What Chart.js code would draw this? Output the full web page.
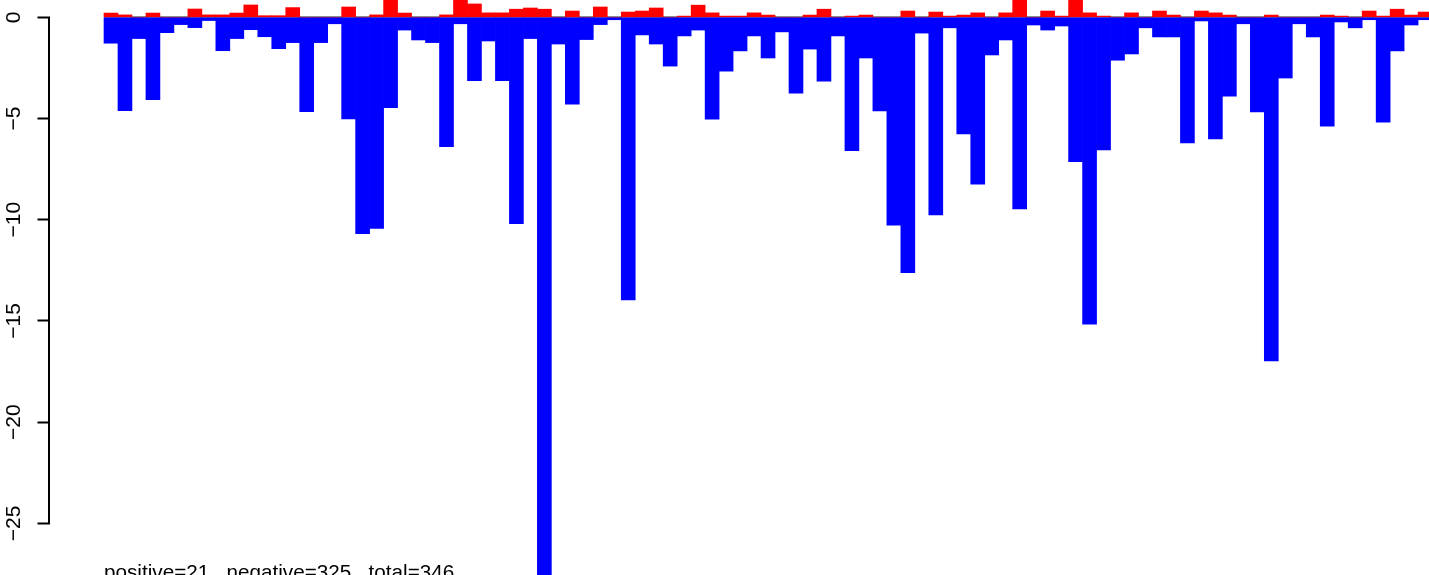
<!DOCTYPE html>
<html>
<head>
<meta charset="utf-8">
<script src="https://cdn.jsdelivr.net/npm/chart.js@4.4.1/dist/chart.umd.min.js"></script>
<style>
html,body{margin:0;padding:0;background:#fff;overflow:hidden}
canvas{display:block}
</style>
</head>
<body>
<canvas id="c" width="1429" height="575"></canvas>
<script>
// ---- data ----
const positiveValues = [
  0.21, 0.12, 0, 0.21, 0, 0, 0.41, 0.12, 0.12, 0.21,
  0.61, 0.08, 0.08, 0.48, 0, 0, 0, 0.51, 0, 0.12,
  1.0, 0.21, 0, 0, 0.12, 1.0, 0.66, 0.22, 0.22, 0.40,
  0.46, 0.40, 0, 0.31, 0, 0.51, 0, 0.26, 0.31, 0.46,
  0, 0.06, 0.60, 0.22, 0.06, 0.06, 0.22, 0.11, 0, 0,
  0.11, 0.40, 0, 0.06, 0.11, 0, 0, 0.31, 0, 0.26,
  0.06, 0.11, 0.22, 0, 0.22, 1.0, 0, 0.31, 0.06, 1.0,
  0.22, 0.06, 0, 0.22, 0, 0.31, 0.11, 0, 0.31, 0.22,
  0.11, 0, 0, 0.11, 0, 0, 0, 0.11, 0.06, 0,
  0.31, 0.06, 0.40, 0.11, 0.26
];
const negativeValues = [
  -1.28, -4.61, -1.05, -4.07, -0.76, -0.36, -0.51, -0.16, -1.65, -1.05,
  -0.61, -0.96, -1.55, -1.25, -4.66, -1.25, -0.32, -5.02, -10.69, -10.43,
  -4.47, -0.63, -1.12, -1.25, -6.39, -0.32, -3.13, -1.17, -3.13, -10.2,
  -1.05, -28.5, -1.32, -4.29, -1.10, -0.36, -0.12, -13.96, -0.87, -1.32,
  -2.41, -0.92, -0.63, -5.03, -2.66, -1.66, -0.92, -2.01, -0.72, -3.75,
  -1.57, -3.15, -0.92, -6.59, -2.01, -4.63, -10.27, -12.62, -0.78, -9.76,
  -0.52, -5.76, -8.24, -1.86, -1.12, -9.47, -0.38, -0.63, -0.43, -7.13,
  -15.16, -6.55, -2.12, -1.81, -0.52, -0.97, -0.97, -6.21, -0.18, -6.01,
  -3.89, -0.32, -4.67, -16.97, -3.00, -0.32, -0.97, -5.38, -0.23, -0.52,
  -0.12, -5.18, -1.66, -0.38, -0.12
];
const yTickValues = [-25, -20, -15, -10, -5, 0];
const summaryLabel = 'positive=21,  negative=325,  total=346';

// ---- build library structures ----
const positions = positiveValues.map((_, i) => i);
const toPoints = arr => arr.map((v, i) => ({ x: positions[i], y: v }));
const baseLine = [
  { x: positions[0] - 0.5, y: 0 },
  { x: positions[positions.length - 1] + 0.5, y: 0 }
];

const rAxisPlugin = {
  id: 'rAxis',
  afterDraw(chart) {
    const ctx = chart.ctx;
    const ys = chart.scales.y;
    const xs = chart.scales.x;
    const x0 = chart.chartArea.left;
    ctx.save();
    ctx.strokeStyle = '#000';
    ctx.lineWidth = 2;
    ctx.beginPath();
    ctx.moveTo(x0 - 1, ys.getPixelForValue(Math.max(...yTickValues)));
    ctx.lineTo(x0 - 1, ys.getPixelForValue(Math.min(...yTickValues)));
    ctx.stroke();
    ctx.fillStyle = '#000';
    ctx.font = '20.7px "Liberation Sans", Arial, sans-serif';
    ctx.textBaseline = 'alphabetic';
    ctx.textAlign = 'left';
    ctx.fillText(summaryLabel, xs.getPixelForValue(positions[0] - 0.5), 578.5);
    ctx.restore();
  }
};

new Chart(document.getElementById('c'), {
  type: 'bar',
  data: {
    datasets: [
      {
        type: 'line',
        data: baseLine,
        borderColor: '#8c8c8c',
        borderWidth: 2.5,
        pointRadius: 0,
        fill: false,
        order: 10
      },
      {
        type: 'bar',
        data: toPoints(positiveValues),
        backgroundColor: '#ff0000',
        borderWidth: 0,
        barPercentage: 1,
        categoryPercentage: 1,
        grouped: false,
        order: 2
      },
      {
        type: 'bar',
        data: toPoints(negativeValues),
        backgroundColor: '#0000ff',
        borderWidth: 0,
        barPercentage: 1,
        categoryPercentage: 1,
        grouped: false,
        order: 1
      }
    ]
  },
  options: {
    responsive: false,
    devicePixelRatio: 1,
    animation: false,
    layout: { padding: 0 },
    plugins: {
      legend: { display: false },
      tooltip: { enabled: false },
      title: { display: false }
    },
    scales: {
      x: {
        type: 'linear',
        display: false,
        offset: false,
        min: -4.363,
        max: 94.28
      },
      y: {
        type: 'linear',
        min: -27.55,
        max: 0.855,
        afterBuildTicks: s => { s.ticks = yTickValues.map(v => ({ value: v })); },
        afterFit: s => {
          s.width = 50;
          s.paddingTop = 0;
          s.paddingBottom = 0;
        },
        border: { display: false },
        grid: {
          drawOnChartArea: false,
          drawTicks: true,
          tickLength: 12.5,
          tickWidth: 2,
          tickColor: '#000',
          color: '#000'
        },
        ticks: {
          minRotation: 90,
          maxRotation: 90,
          crossAlign: 'center',
          padding: 5.7,
          autoSkip: false,
          color: '#000',
          font: { family: '"Liberation Sans", Arial, sans-serif', size: 21 },
          callback: v => (v < 0 ? '\u2212' + Math.abs(v) : String(v))
        }
      }
    }
  },
  plugins: [rAxisPlugin]
});
</script>
</body>
</html>
